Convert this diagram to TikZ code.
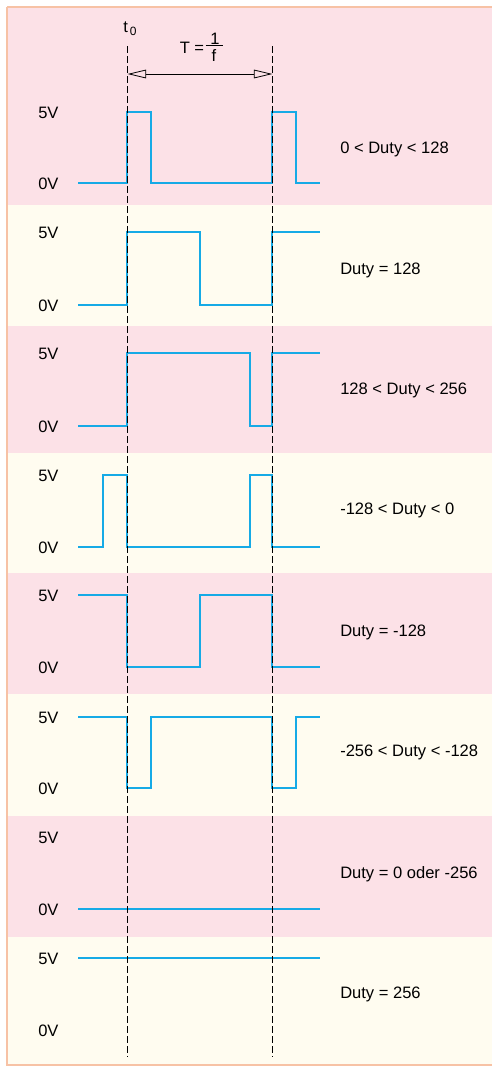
\documentclass[tikz,border=0pt]{standalone}
\usepackage{fontspec}
\setmainfont{Liberation Sans}
\usetikzlibrary{arrows.meta}
\definecolor{bandpink}{RGB}{252,225,231}
\definecolor{bandcream}{RGB}{255,252,240}
\definecolor{frameorange}{RGB}{247,194,165}
\definecolor{signal}{RGB}{22,170,230}
\begin{document}
\begin{tikzpicture}[x=0.75pt,y=-0.75pt,
  lbl/.style={font=\fontsize{12.4}{14}\selectfont, inner sep=0pt, anchor=base west},
  mid/.style={font=\fontsize{12.4}{14}\selectfont, inner sep=0pt, anchor=center},
  wave/.style={signal, line width=1.5pt, line join=miter},
  marker/.style={black, line width=0.7pt, dash pattern=on 5.25pt off 2.25pt},
  period/.style={black, line width=0.6pt,
    {Triangle[open, length=14pt, width=6.5pt]}-{Triangle[open, length=14pt, width=6.5pt]}},
]
\useasboundingbox (0,0) rectangle (492,1068);
\fill[white] (0,0) rectangle (492,1068);

% alternating background bands
\fill[bandpink]  (7,7)   rectangle (492,205);
\fill[bandcream] (7,205) rectangle (492,326);
\fill[bandpink]  (7,326) rectangle (492,453);
\fill[bandcream] (7,453) rectangle (492,573);
\fill[bandpink]  (7,573) rectangle (492,694);
\fill[bandcream] (7,694) rectangle (492,816);
\fill[bandpink]  (7,816) rectangle (492,937);
\fill[bandcream] (7,937) rectangle (492,1065);

% frame
\draw[frameorange, line width=0.9pt] (7,7) -- (492,7);
\draw[frameorange, line width=1.5pt] (7,1065) -- (492,1065);
\draw[frameorange, line width=1.9pt] (7,6.5) -- (7,1066);

% voltage levels
\foreach \hi/\lo [count=\i] in {112/183, 232/305, 353/426, 475/547, 595/667, 717/788, 837/909, 958/1030} {
  \node[lbl] (hi\i) at (38,\hi+6) {5V};
  \node[lbl] (lo\i) at (38,\lo+6) {0V};
}

% duty ranges
\node[lbl] (d1) at (340,153) {0 < Duty < 128};
\node[lbl] (d2) at (340,274) {Duty = 128};
\node[lbl] (d3) at (340,394) {128 < Duty < 256};
\node[lbl] (d4) at (340,514) {-128 < Duty < 0};
\node[lbl] (d5) at (340,636) {Duty = -128};
\node[lbl] (d6) at (340,756) {-256 < Duty < -128};
\node[lbl] (d7) at (340,878) {Duty = 0 oder -256};
\node[lbl] (d8) at (340,998) {Duty = 256};

% PWM waveforms
\draw[wave] (78,183) -| (127,112) -| (151,183) -| (272,112) -| (296,183) -- (320,183);
\draw[wave] (78,305) -| (127,232) -| (200,305) -| (272,232) -- (320,232);
\draw[wave] (78,426) -| (127,353) -| (250,426) -| (272,353) -- (320,353);
\draw[wave] (78,547) -| (103,475) -| (127,547) -| (250,475) -| (272,547) -- (320,547);
\draw[wave] (78,595) -| (127,667) -| (200,595) -| (272,667) -- (320,667);
\draw[wave] (78,717) -| (127,788) -| (151,717) -| (272,788) -| (296,717) -- (320,717);
\draw[wave] (78,909) -- (320,909);
\draw[wave] (78,958) -- (320,958);

% period markers
\coordinate (m0top) at (127.5,46);
\coordinate (m0bot) at (127.5,1057);
\coordinate (m1top) at (272.5,46);
\coordinate (m1bot) at (272.5,1057);
\draw[marker] (m0top) -- (m0bot);
\draw[marker] (m1top) -- (m1bot);

\coordinate (p0) at (127.5,74);
\coordinate (p1) at (272.5,74);
\draw[period] (p0) -- (p1);

% labels of the period
\node[lbl] (t0) at (123,32) {t{\fontsize{9}{9}\selectfont\,\raisebox{-2.5pt}{0}}};
\node[lbl] (T) at (179.5,53) {T =};
\node[mid] (num) at (215,38.5) {1};
\node[mid] (den) at (214,56) {f};
\draw[black, line width=1pt] (205.5,45.7) -- (222.5,45.7);
\end{tikzpicture}
\end{document}
